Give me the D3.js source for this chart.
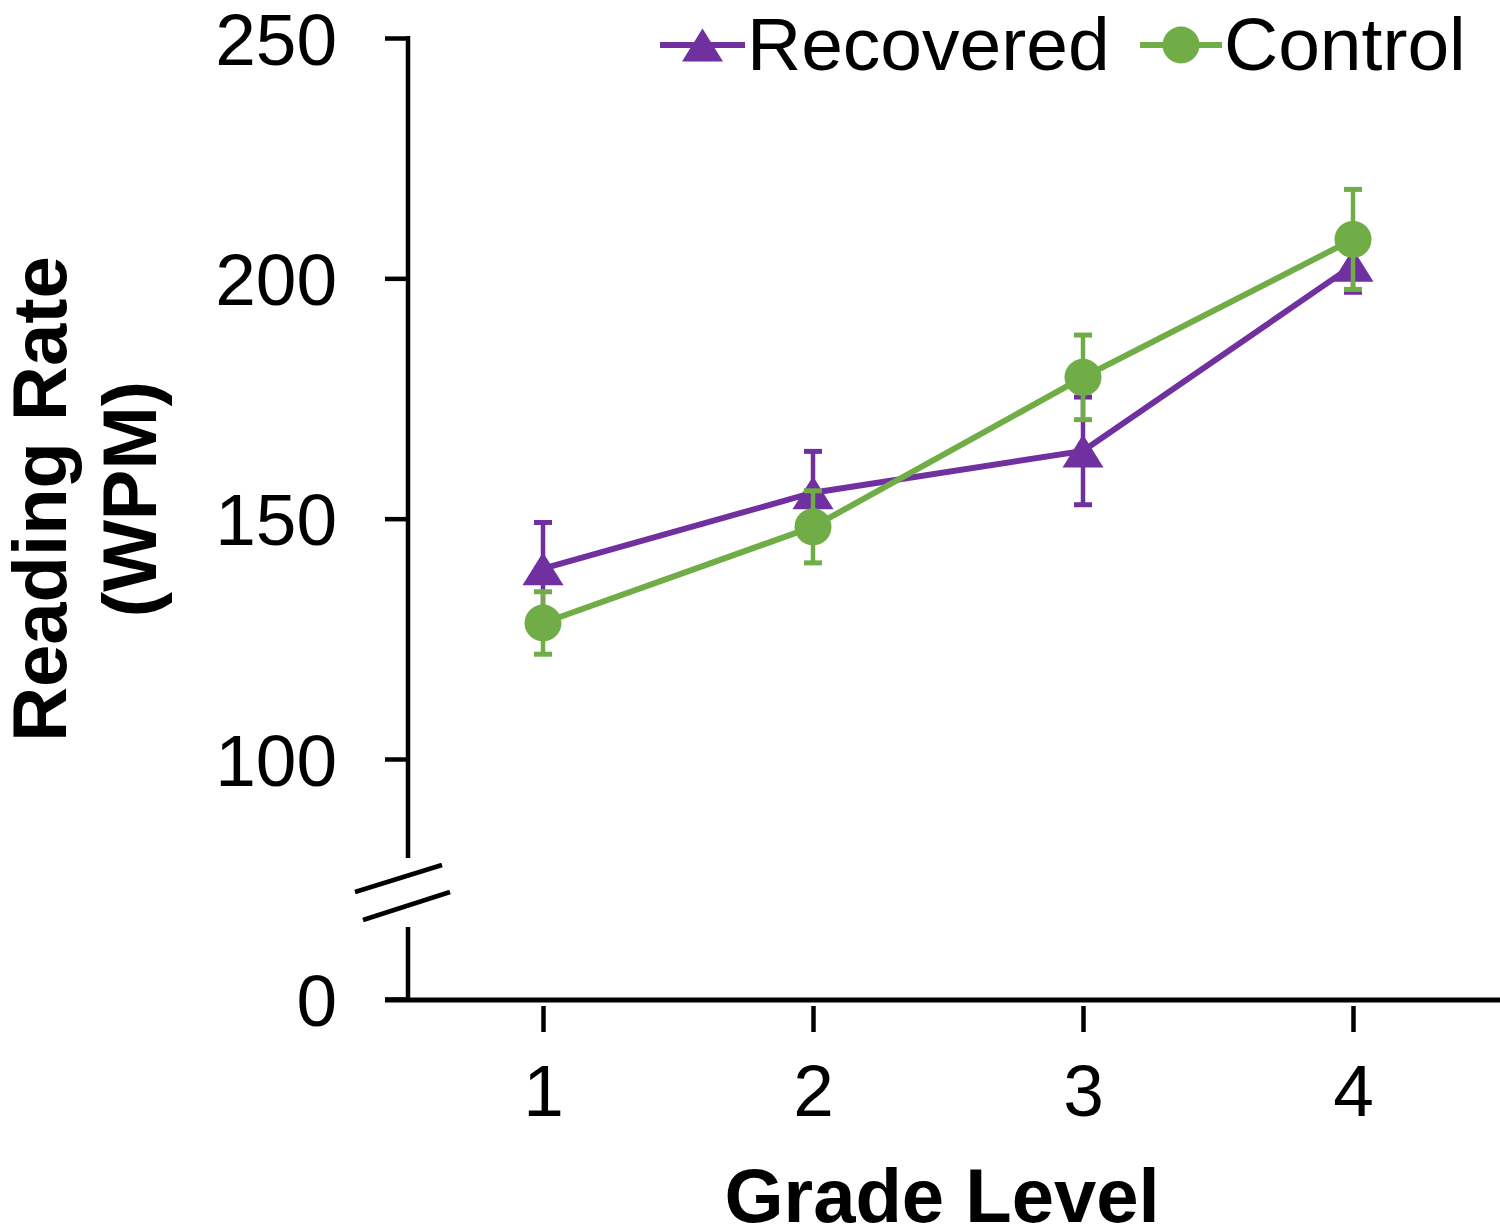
<!DOCTYPE html>
<html><head><meta charset="utf-8">
<script src="https://cdn.jsdelivr.net/npm/d3@7"></script>
<style>
html,body{margin:0;padding:0;background:#fff;}
text{font-family:"Liberation Sans",Arial,sans-serif;}
</style></head>
<body>
<svg id="chart" width="1500" height="1231"></svg>
<script>
const grades = [1, 2, 3, 4];
const recoveredMean = [139.6, 155.4, 164.1, 202.7];
const recoveredErr = [9.6, 8.6, 11.2, 5.6];
const controlMean = [128.3, 148.3, 179.4, 208.1];
const controlErr = [6.5, 7.5, 8.8, 10.4];
const yTicks = [0, 100, 150, 200, 250];
const seriesNames = ["Recovered", "Control"];
const seriesColors = ["#7030A0", "#70AD47"];

const svg = d3.select("#chart");
const x = d3.scaleLinear().domain([1, 4]).range([543, 1353]);
const y = d3.scaleLinear().domain([0, 100, 250]).range([999, 759, 38]);
const axisX = 408;

// Y axis (broken)
const g = svg.append("g");
g.append("line").attr("x1", axisX).attr("x2", axisX).attr("y1", y(250) - 2).attr("y2", 858)
  .attr("stroke", "#000").attr("stroke-width", 4.5);
g.append("line").attr("x1", axisX).attr("x2", axisX).attr("y1", 927).attr("y2", y(0))
  .attr("stroke", "#000").attr("stroke-width", 4.5);
// break marks
g.append("line").attr("x1", 355).attr("y1", 892).attr("x2", 442).attr("y2", 865)
  .attr("stroke", "#000").attr("stroke-width", 4.5);
g.append("line").attr("x1", 363).attr("y1", 920).attr("x2", 450).attr("y2", 892)
  .attr("stroke", "#000").attr("stroke-width", 4.5);

const yAxis = d3.axisLeft(y).tickValues(yTicks).tickSize(23).tickPadding(48).tickFormat(d3.format("d"));
const ya = svg.append("g").attr("transform", `translate(${axisX},0)`).call(yAxis);
ya.select(".domain").remove();
ya.selectAll(".tick line").attr("stroke", "#000").attr("stroke-width", 4.5);
ya.selectAll(".tick text").attr("font-size", 73).attr("fill", "#000")
  .attr("font-family", "'Liberation Sans', Arial, sans-serif").attr("dy", "0.36em");

// X axis
svg.append("line").attr("x1", 385).attr("x2", 1500).attr("y1", 1000).attr("y2", 1000)
  .attr("stroke", "#000").attr("stroke-width", 5);
const xAxis = d3.axisBottom(x).tickValues(grades).tickSize(26).tickPadding(32).tickFormat(d3.format("d"));
const xa = svg.append("g").attr("transform", "translate(0,1006)").call(xAxis);
xa.select(".domain").remove();
xa.selectAll(".tick line").attr("stroke", "#000").attr("stroke-width", 4.5);
xa.selectAll(".tick text").attr("font-size", 73).attr("fill", "#000")
  .attr("font-family", "'Liberation Sans', Arial, sans-serif");

// Axis titles
svg.append("text").attr("x", 942).attr("y", 1222).attr("text-anchor", "middle")
  .attr("font-size", 76).attr("font-weight", "bold").text("Grade Level");
const yt = svg.append("g").attr("transform", "translate(0,499) rotate(-90)");
yt.append("text").attr("x", 0).attr("y", 66).attr("text-anchor", "middle")
  .attr("font-size", 76).attr("font-weight", "bold").text("Reading Rate");
yt.append("text").attr("x", 0).attr("y", 156).attr("text-anchor", "middle")
  .attr("font-size", 76).attr("font-weight", "bold").text("(WPM)");

function triPath(cx, cy) {
  const w = 41, h = 33;
  return `M${cx},${cy - h / 2}L${cx + w / 2},${cy + h / 2}L${cx - w / 2},${cy + h / 2}Z`;
}

const series = [
  { name: seriesNames[0], color: seriesColors[0], mean: recoveredMean, err: recoveredErr, marker: "tri" },
  { name: seriesNames[1], color: seriesColors[1], mean: controlMean, err: controlErr, marker: "circle" }
];

const line = d3.line().x(d => x(d.g)).y(d => y(d.v));
series.forEach(s => {
  const pts = grades.map((gr, i) => ({ g: gr, v: s.mean[i], e: s.err[i] }));
  const sg = svg.append("g");
  sg.append("path").datum(pts).attr("d", line).attr("fill", "none")
    .attr("stroke", s.color).attr("stroke-width", 6);
  // error bars
  pts.forEach(p => {
    sg.append("line").attr("x1", x(p.g)).attr("x2", x(p.g)).attr("y1", y(p.v - p.e)).attr("y2", y(p.v + p.e))
      .attr("stroke", s.color).attr("stroke-width", 4.5);
    [p.v - p.e, p.v + p.e].forEach(v => {
      sg.append("line").attr("x1", x(p.g) - 9).attr("x2", x(p.g) + 9).attr("y1", y(v)).attr("y2", y(v))
        .attr("stroke", s.color).attr("stroke-width", 5);
    });
  });
  pts.forEach(p => {
    if (s.marker === "tri") {
      sg.append("path").attr("d", triPath(x(p.g), y(p.v))).attr("fill", s.color);
    } else {
      sg.append("circle").attr("cx", x(p.g)).attr("cy", y(p.v)).attr("r", 18.5).attr("fill", s.color);
    }
  });
});

// Legend
const leg = [
  { s: series[0], x0: 660, x1: 745, tx: 747 },
  { s: series[1], x0: 1140, x1: 1222, tx: 1224 }
];
leg.forEach(l => {
  const cy = 45, cx = (l.x0 + l.x1) / 2;
  svg.append("line").attr("x1", l.x0).attr("x2", l.x1).attr("y1", cy).attr("y2", cy)
    .attr("stroke", l.s.color).attr("stroke-width", 6);
  if (l.s.marker === "tri") svg.append("path").attr("d", triPath(cx, cy)).attr("fill", l.s.color);
  else svg.append("circle").attr("cx", cx).attr("cy", cy).attr("r", 18.5).attr("fill", l.s.color);
  svg.append("text").attr("x", l.tx).attr("y", 70).attr("font-size", 75).attr("fill", "#000").text(l.s.name);
});
</script>
</body></html>
